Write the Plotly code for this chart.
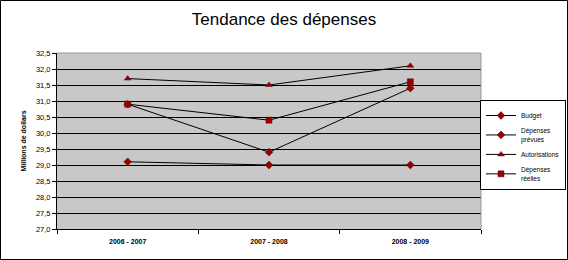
import plotly.graph_objects as go

categories = ["2006 - 2007", "2007 - 2008", "2008 - 2009"]
budget = [29.1, 29.0, 29.0]
depenses_prevues = [30.9, 29.4, 31.4]
autorisations = [31.7, 31.5, 32.1]
depenses_reelles = [30.9, 30.4, 31.6]
series_names = ["Budget", "Dépenses<br>prévues", "Autorisations", "Dépenses<br>réelles"]
symbols = ["diamond", "diamond", "triangle-up", "square"]
sizes = [6, 6, 6, 6]

FONT = "Liberation Sans, Arial, sans-serif"
W, H = 568, 260
L, R, T, B = 57, 481, 53, 229

fig = go.Figure()
for name, vals, sym, sz in zip(series_names, [budget, depenses_prevues, autorisations, depenses_reelles], symbols, sizes):
    fig.add_trace(go.Scatter(
        x=categories, y=vals, name=name, mode="lines+markers",
        line=dict(color="black", width=1),
        marker=dict(symbol=sym, size=sz, color="#990000", line=dict(color="#660000", width=0.5)),
    ))

def px(x):
    return (x - L) / (R - L)

def py(y):
    return (B - y) / (B - T)

fig.update_layout(
    width=W, height=H,
    margin=dict(l=L, r=W - R, t=T, b=H - B, pad=0, autoexpand=False),
    paper_bgcolor="white",
    plot_bgcolor="#C8C8C8",
    separators=", ",
    font=dict(family=FONT, color="black", size=8),
    title=dict(text="Tendance des dépenses", x=0.5, xref="container", xanchor="center",
               y=1 - 19 / H, yanchor="middle", font=dict(size=17, family=FONT, color="black")),
    showlegend=True,
    legend=dict(x=px(566), y=py(100), xanchor="right", yanchor="top",
                bordercolor="black", borderwidth=1, bgcolor="white",
                font=dict(size=6.5, family=FONT, color="black"), itemwidth=30, tracegroupgap=5),
    xaxis=dict(type="category", range=[-0.5, 2.5], showgrid=False,
               showline=True, linecolor="black", linewidth=1,
               ticks="outside", ticklen=4, tickcolor="black", tickson="boundaries",
               tickfont=dict(size=7, family=FONT, color="black", weight="bold"),
               ticklabelstandoff=6, fixedrange=True),
    yaxis=dict(range=[27, 32.5], dtick=0.5, tick0=27, tickformat=".1f",
               showgrid=True, gridcolor="black", gridwidth=1,
               showline=True, linecolor="black", linewidth=1,
               ticks="outside", ticklen=4, tickcolor="black",
               tickfont=dict(size=7.5, family=FONT, color="black"), zeroline=False,
               title=dict(text="Millions de dollars",
                          font=dict(size=7, family=FONT, color="black", weight="bold"), standoff=8)),
    shapes=[
        dict(type="line", xref="paper", yref="paper", x0=0, x1=1, y0=1, y1=1,
             line=dict(color="#999999", width=1), layer="above"),
        dict(type="line", xref="paper", yref="paper", x0=1, x1=1, y0=0, y1=1,
             line=dict(color="#999999", width=1), layer="above"),
        dict(type="rect", xref="paper", yref="paper",
             x0=px(0.5), x1=px(567.5), y0=py(259.5), y1=py(0.5),
             line=dict(color="black", width=1), fillcolor="rgba(0,0,0,0)", layer="above"),
    ],
)

fig.write_html("out.html")
